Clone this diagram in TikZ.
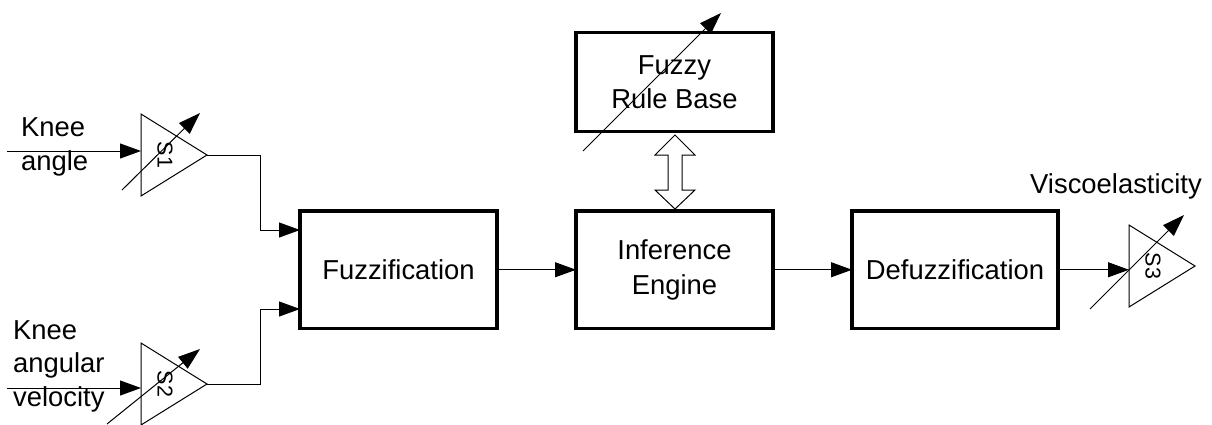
\documentclass[tikz,border=0pt]{standalone}
\usepackage{fontspec}
\setmainfont{Liberation Sans}
\usetikzlibrary{arrows.meta}
\tikzset{
  blockbox/.style={draw=black,line width=3.4pt,outer sep=0pt,font=\fontsize{27.4}{34.5}\selectfont,align=center,inner sep=0pt,anchor=north west},
  labeltext/.style={font=\fontsize{27.4}{33.5}\selectfont,align=left,inner sep=0pt},
  gaintext/.style={font=\fontsize{21.5}{24}\selectfont,rotate=-90,inner sep=0pt},
  thin line/.style={draw=black,line width=1pt},
  flow/.style={thin line,-{Triangle[length=21pt,width=15pt]}},
  adjust/.style={thin line,-{Triangle[length=22pt,width=15pt]}},
}
\begin{document}
\begin{tikzpicture}[x=1pt,y=-1pt]
\useasboundingbox (0,0) rectangle (1212,424);
% blocks
\node[blockbox,minimum width=197pt,minimum height=117.5pt] (fuzz) at (300,211) {Fuzzification};
\node[blockbox,minimum width=197pt,minimum height=117.5pt] (inf) at (576,211) {Inference\\Engine};
\node[blockbox,minimum width=206pt,minimum height=117.5pt] (defuzz) at (852,211) {Defuzzification};
\node[blockbox,minimum width=197pt,minimum height=99pt] (rules) at (576,32.5) {Fuzzy\\Rule Base};
% bidirectional arrow
\coordinate (lt) at (675,135);
\coordinate (lb) at (675,209);
\draw[thin line] (lt) -- (695,155) -- (682,155) -- (682,190) -- (695,190) -- (lb)
  -- (655,190) -- (668,190) -- (668,155) -- (655,155) -- cycle;
% gain triangles
\coordinate (s1a) at (141,114); \coordinate (s1b) at (141,196); \coordinate (s1c) at (207,155);
\coordinate (s2a) at (141,343); \coordinate (s2b) at (141,425); \coordinate (s2c) at (207,384);
\coordinate (s3a) at (1129,225); \coordinate (s3b) at (1129,307); \coordinate (s3c) at (1195,266);
\draw[thin line] (s1a) -- (s1c) -- (s1b) -- cycle;
\draw[thin line] (s2a) -- (s2c) -- (s2b) -- cycle;
\draw[thin line] (s3a) -- (s3c) -- (s3b) -- cycle;
\node[gaintext] (s1) at (165,155) {S1};
\node[gaintext] (s2) at (165,384) {S2};
\node[gaintext] (s3) at (1153,266) {S3};
% connectors
\coordinate (in1) at (7,151); \coordinate (in1t) at (141,151);
\coordinate (in2) at (7,388); \coordinate (in2t) at (141,388);
\draw[flow] (in1) -- (in1t);
\draw[flow] (in2) -- (in2t);
\draw[flow] (s1c) -- (260,155) -- (260,230) -- (fuzz.west |- 0,230);
\draw[flow] (s2c) -- (260,384) -- (260,309) -- (fuzz.west |- 0,309);
\draw[flow] (fuzz.east) -- (inf.west);
\draw[flow] (inf.east) -- (defuzz.west);
\draw[flow] (defuzz.east) -- (s3a |- defuzz.east);
% adjustable arrows
\coordinate (a1s) at (122,190); \coordinate (a1e) at (200,113);
\coordinate (a2s) at (107,424); \coordinate (a2e) at (200,349);
\coordinate (a3s) at (1090,309); \coordinate (a3e) at (1184,215);
\coordinate (a4s) at (583,151); \coordinate (a4e) at (721,13);
\draw[adjust] (a1s) -- (a1e);
\draw[adjust] (a2s) -- (a2e);
\draw[adjust] (a3s) -- (a3e);
\draw[adjust] (a4s) -- (a4e);
% labels
\node[labeltext,anchor=west] (l1) at (21,147) {Knee\\angle};
\node[labeltext,anchor=west] (l2) at (13,366) {Knee\\angular\\velocity};
\node[labeltext,anchor=base west] (l3) at (1030,193) {Viscoelasticity};
\end{tikzpicture}
\end{document}
